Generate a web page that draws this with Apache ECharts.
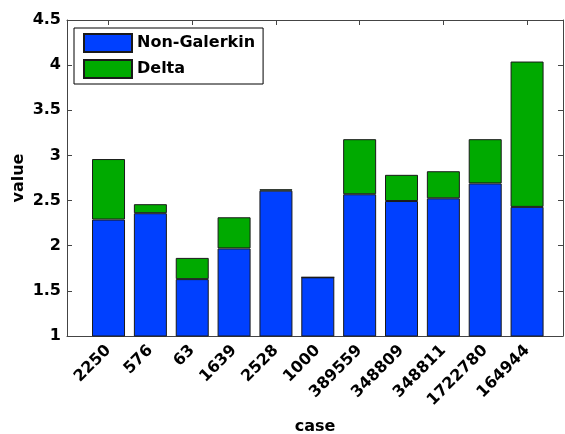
<!DOCTYPE html>
<html>
<head>
<meta charset="utf-8">
<script src="https://cdn.jsdelivr.net/npm/echarts@6/dist/echarts.min.js"></script>
<style>html,body{margin:0;padding:0;background:#fff}#c{width:565px;height:434px}</style>
</head>
<body>
<div id="c"></div>
<script>
const categories = ['2250','576','63','1639','2528','1000','389559','348809','348811','1722780','164944'];
const nonGalerkin = [2.29, 2.36, 1.63, 1.97, 2.61, 1.65, 2.57, 2.495, 2.525, 2.69, 2.43];
const delta = [0.67, 0.10, 0.235, 0.345, 0.015, 0, 0.61, 0.29, 0.30, 0.49, 1.61];

const FONT = 'DejaVu Sans';
const blue = '#0040ff', green = '#00aa00';
const txt = {fontFamily: FONT, fontWeight: 'bold', fontSize: 16, color: '#000'};
const lineStyle = {color: '#444', width: 1};

const chart = echarts.init(document.getElementById('c'), null, {renderer: 'canvas'});
chart.setOption({
  animation: false,
  backgroundColor: '#fff',
  grid: [
    {left: 67, top: 20, right: 2, bottom: 98, containLabel: false, outerBoundsMode: 'none'},
    {left: 87.6, top: 20, right: 17, bottom: 98, containLabel: false, outerBoundsMode: 'none'}
  ],
  legend: {
    left: 74, top: 28, orient: 'vertical',
    padding: [5, 8, 5, 9], itemGap: 6,
    itemWidth: 48, itemHeight: 18, icon: 'rect',
    borderColor: '#000', borderWidth: 1, backgroundColor: '#fff',
    textStyle: txt,
    data: ['Non-Galerkin', 'Delta']
  },
  xAxis: [{
    gridIndex: 0, type: 'value', min: 0, max: 1,
    name: 'case', nameLocation: 'middle', nameGap: 83, nameMoveOverlap: false, nameTextStyle: txt,
    axisLine: {show: true, onZero: false, lineStyle},
    axisTick: {show: false}, axisLabel: {show: false}, splitLine: {show: false}
  }, {
    gridIndex: 0, type: 'value', position: 'top', min: 0, max: 1,
    axisLine: {show: true, onZero: false, lineStyle},
    axisTick: {show: false}, axisLabel: {show: false}, splitLine: {show: false}
  }, {
    gridIndex: 1, type: 'category', data: categories, boundaryGap: true,
    axisLine: {show: false, onZero: false},
    axisTick: {show: true, inside: true, alignWithLabel: true, length: 5, lineStyle},
    axisLabel: Object.assign({rotate: 45, margin: 12, interval: 0}, txt),
    splitLine: {show: false}
  }, {
    gridIndex: 1, type: 'category', data: categories, boundaryGap: true, position: 'top',
    axisLine: {show: false, onZero: false},
    axisTick: {show: true, inside: true, alignWithLabel: true, length: 5, lineStyle},
    axisLabel: {show: false}, splitLine: {show: false}
  }],
  yAxis: [{
    gridIndex: 0, type: 'value', min: 1, max: 4.5, interval: 0.5,
    name: 'value', nameLocation: 'middle', nameGap: 40, nameMoveOverlap: false, nameTextStyle: txt,
    axisLine: {show: true, onZero: false, lineStyle},
    axisTick: {show: true, inside: true, length: 5, lineStyle},
    splitLine: {show: false},
    axisLabel: Object.assign({margin: 6, formatter: v => String(v)}, txt)
  }, {
    gridIndex: 0, type: 'value', position: 'right', min: 1, max: 4.5, interval: 0.5,
    axisLine: {show: true, onZero: false, lineStyle},
    axisTick: {show: true, inside: true, length: 5, lineStyle},
    axisLabel: {show: false}, splitLine: {show: false}
  }, {
    gridIndex: 1, type: 'value', min: 1, max: 4.5, interval: 0.5, show: false
  }],
  series: [{
    name: 'Non-Galerkin', type: 'bar', stack: 's', barWidth: 33,
    xAxisIndex: 2, yAxisIndex: 2,
    itemStyle: {color: blue, borderColor: '#1a1a1a', borderWidth: 1},
    data: nonGalerkin
  }, {
    name: 'Delta', type: 'bar', stack: 's', barWidth: 33,
    xAxisIndex: 2, yAxisIndex: 2,
    itemStyle: {color: green, borderColor: '#1a1a1a', borderWidth: 1},
    data: delta
  }]
});
</script>
</body>
</html>
